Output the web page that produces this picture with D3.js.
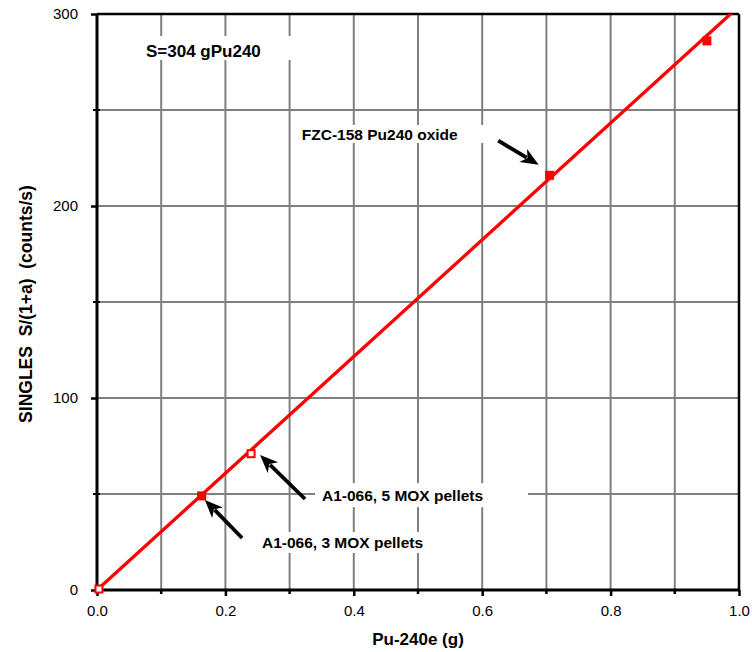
<!DOCTYPE html>
<html>
<head>
<meta charset="utf-8">
<script src="https://cdn.jsdelivr.net/npm/d3@7/dist/d3.min.js"></script>
<style>
  html, body { margin: 0; padding: 0; background: #fff; }
  svg { display: block; font-family: "Liberation Sans", Arial, Helvetica, sans-serif; }
</style>
</head>
<body>
<svg id="chart" width="752" height="652"></svg>
<script>
// Measured samples: Pu-240 effective mass vs. singles rate
const pu240 = [0.003, 0.163, 0.240, 0.705, 0.950];
const singles = [0.5, 49, 71, 216, 286];
const hollow = [true, false, true, false, false];

// Calibration line S = 304 counts/s per g Pu240
const slope = 304;
const fitX = [0, 1.0];

const xTicks = [0, 0.2, 0.4, 0.6, 0.8, 1.0];
const xMinor = [0.1, 0.3, 0.5, 0.7, 0.9];
const yTicks = [0, 100, 200, 300];
const yMinor = [50, 150, 250];
const xGrid = [0.1, 0.2, 0.3, 0.4, 0.5, 0.6, 0.7, 0.8, 0.9];
const yGrid = [50, 100, 150, 200, 250];

// Annotations: text anchor (data units), white backing box, arrow tail -> tip (data units)
const notes = [
  { text: "S=304 gPu240", x: 0.0763, y: 277.6, size: 17, box: [-7, -21, 160, 24] },
  { text: "FZC-158 Pu240 oxide", x: 0.319, y: 234.4, size: 15.5, box: [-6, -15, 194, 18],
    arrow: [[0.625, 234], [0.688, 221.5]] },
  { text: "A1-066, 5 MOX pellets", x: 0.3505, y: 46.3, size: 15.5, box: [-7, -18, 213, 24],
    arrow: [[0.324, 47.4], [0.254, 70.3]] },
  { text: "A1-066, 3 MOX pellets", x: 0.257, y: 21.9, size: 15.5, box: [-7, -16, 185, 21],
    arrow: [[0.226, 27.1], [0.168, 46.9]] }
];

const margin = { left: 97, top: 14, right: 13, bottom: 62 };
const W = 752, H = 652;
const svg = d3.select("#chart");

const x = d3.scaleLinear().domain([0, 1]).range([margin.left, W - margin.right]);
const y = d3.scaleLinear().domain([0, 300]).range([H - margin.bottom, margin.top]);

// Grid
const grid = svg.append("g").attr("stroke", "#808080").attr("stroke-width", 2);
grid.selectAll("line.v").data(xGrid).join("line")
  .attr("x1", d => x(d)).attr("x2", d => x(d))
  .attr("y1", y(0)).attr("y2", y(300));
grid.selectAll("line.h").data(yGrid).join("line")
  .attr("y1", d => y(d)).attr("y2", d => y(d))
  .attr("x1", x(0)).attr("x2", x(1));

// White label boxes hide the grid behind the text
const noteG = svg.append("g");
noteG.selectAll("rect").data(notes).join("rect")
  .attr("x", d => x(d.x) + d.box[0]).attr("y", d => y(d.y) + d.box[1])
  .attr("width", d => d.box[2]).attr("height", d => d.box[3])
  .attr("fill", "#fff");

// Frame
svg.append("line").attr("x1", x(0)).attr("x2", x(1)).attr("y1", y(300)).attr("y2", y(300))
  .attr("stroke", "#000").attr("stroke-width", 2.5);
svg.append("line").attr("x1", x(1)).attr("x2", x(1)).attr("y1", y(0)).attr("y2", y(300))
  .attr("stroke", "#000").attr("stroke-width", 2.5);

// Axes
const xAxis = svg.append("g").attr("transform", `translate(0,${y(0)})`)
  .call(d3.axisBottom(x).tickValues(xTicks).tickFormat(d3.format(".1f")).tickSize(6).tickPadding(9));
const yAxis = svg.append("g").attr("transform", `translate(${x(0)},0)`)
  .call(d3.axisLeft(y).tickValues(yTicks).tickFormat(d3.format("d")).tickSize(6).tickPadding(13));
[xAxis, yAxis].forEach(a => {
  a.select(".domain").attr("stroke", "#000").attr("stroke-width", 3);
  a.selectAll(".tick line").attr("stroke", "#000").attr("stroke-width", 2.5);
  a.selectAll(".tick text").attr("font-size", 15).attr("fill", "#000")
    .attr("font-family", "'Liberation Sans', Arial, sans-serif");
});
xAxis.select(".domain").attr("d", `M${x(0)},0H${x(1)}`);
yAxis.select(".domain").attr("d", `M0,${y(0)}V${y(300)}`);

svg.append("g").selectAll("line").data(xMinor).join("line")
  .attr("x1", d => x(d)).attr("x2", d => x(d))
  .attr("y1", y(0)).attr("y2", y(0) + 4)
  .attr("stroke", "#000").attr("stroke-width", 2.5);
svg.append("g").selectAll("line").data(yMinor).join("line")
  .attr("y1", d => y(d)).attr("y2", d => y(d))
  .attr("x1", x(0) - 4).attr("x2", x(0) + 3)
  .attr("stroke", "#000").attr("stroke-width", 2);

// Axis titles
svg.append("text").attr("x", (x(0) + x(1)) / 2).attr("y", 645)
  .attr("text-anchor", "middle").attr("font-size", 17).attr("font-weight", "bold")
  .text("Pu-240e (g)");
svg.append("text")
  .attr("transform", `translate(32,${(y(0) + y(300)) / 2 + 2}) rotate(-90)`)
  .attr("text-anchor", "middle").attr("font-size", 17.5).attr("font-weight", "bold")
  .attr("xml:space", "preserve").style("white-space", "pre")
  .text("SINGLES  S/(1+a)  (counts/s)");

// Calibration line, clipped to the plot area
svg.append("clipPath").attr("id", "plotClip").append("rect")
  .attr("x", x(0)).attr("y", y(300)).attr("width", x(1) - x(0)).attr("height", y(0) - y(300));
svg.append("path")
  .datum(fitX)
  .attr("clip-path", "url(#plotClip)")
  .attr("d", d3.line().x(d => x(d)).y(d => y(slope * d)))
  .attr("fill", "none").attr("stroke", "#ff0000").attr("stroke-width", 3.3);

// Sample markers
svg.append("g").selectAll("rect").data(pu240.map((v, i) => ({ v, s: singles[i], h: hollow[i] })))
  .join("rect")
  .attr("x", d => x(d.v) - 3.5).attr("y", d => y(d.s) - 3.5)
  .attr("width", 7).attr("height", 7)
  .attr("fill", d => d.h ? "#fff" : "#ff0000")
  .attr("stroke", "#ff0000").attr("stroke-width", 2);

// Annotation text and arrows
noteG.selectAll("text").data(notes).join("text")
  .attr("x", d => x(d.x)).attr("y", d => y(d.y))
  .attr("font-size", d => d.size).attr("font-weight", "bold")
  .text(d => d.text);

const arrowG = svg.append("g");
notes.filter(d => d.arrow).forEach(d => {
  const [t, h] = d.arrow;
  const x0 = x(t[0]), y0 = y(t[1]), x1 = x(h[0]), y1 = y(h[1]);
  const ang = Math.atan2(y1 - y0, x1 - x0);
  const len = 18, half = 7.5;
  const bx = x1 - len * Math.cos(ang), by = y1 - len * Math.sin(ang);
  arrowG.append("line").attr("x1", x0).attr("y1", y0)
    .attr("x2", bx + 4 * Math.cos(ang)).attr("y2", by + 4 * Math.sin(ang))
    .attr("stroke", "#000").attr("stroke-width", 3.8);
  arrowG.append("path")
    .attr("d", `M${x1},${y1}L${bx - half * Math.sin(ang)},${by + half * Math.cos(ang)}L${bx + 5 * Math.cos(ang)},${by + 5 * Math.sin(ang)}L${bx + half * Math.sin(ang)},${by - half * Math.cos(ang)}Z`)
    .attr("fill", "#000");
});
</script>
</body>
</html>
